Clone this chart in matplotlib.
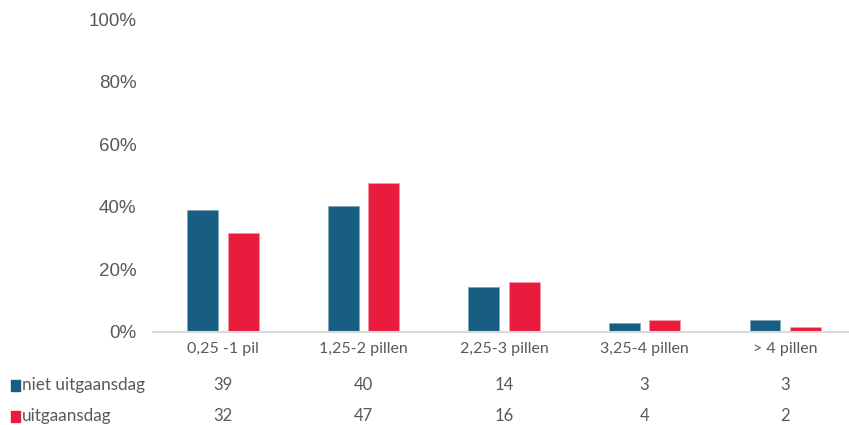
import matplotlib
matplotlib.use("Agg")
import matplotlib.pyplot as plt
import numpy as np
from matplotlib.transforms import blended_transform_factory

categories = ["0,25 -1 pil", "1,25-2 pillen", "2,25-3 pillen", "3,25-4 pillen", "> 4 pillen"]
series_names = ["niet uitgaansdag", "uitgaansdag"]
niet_uitgaansdag = [38.9, 40.3, 14.4, 3.0, 3.7]
uitgaansdag = [31.7, 47.5, 16.0, 3.7, 1.5]
table_niet = ["39", "40", "14", "3", "3"]
table_uit = ["32", "47", "16", "4", "2"]
yticks = [0, 20, 40, 60, 80, 100]

blue = "#175E82"
red = "#E91C3D"
txt = "#595959"

fig = plt.figure(figsize=(8.49, 4.25), dpi=100)
ax = fig.add_axes([153/849, 93/425, 696/849, 313/425])

x = np.arange(len(categories))
w = 0.22
off = 0.143
ax.bar(x - off, niet_uitgaansdag, width=w, color=blue, edgecolor="#7fa3b8", linewidth=0.5)
ax.bar(x + off, uitgaansdag, width=w, color=red, edgecolor="#f39aab", linewidth=0.5)

ax.set_xlim(-0.498, 4.455)
ax.set_ylim(0, 100)
ax.set_yticks(yticks)
ax.set_yticklabels([f"{v}%" for v in yticks], fontsize=13.5, color=txt, family="Liberation Sans")
ax.tick_params(axis="y", length=0, pad=12)
ax.set_xticks(x)
ax.set_xticklabels(categories, fontsize=11.5, color=txt, family="Lato")
ax.tick_params(axis="x", length=0, pad=7)
for s in ["top", "right", "left"]:
    ax.spines[s].set_visible(False)
ax.spines["bottom"].set_color("#D9D9D9")
ax.spines["bottom"].set_linewidth(1.5)

tr = blended_transform_factory(ax.transData, fig.transFigure)
row_y = [1 - 385/425, 1 - 416/425]
for vals, yf in zip([table_niet, table_uit], row_y):
    for xi, v in zip(x, vals):
        fig.text(xi, yf, v, transform=tr, ha="center", va="center", fontsize=12, color=txt, family="Lato")

for name, col, yf in zip(series_names, [blue, red], row_y):
    fig.patches.append(plt.Rectangle((11/849, yf - 6/425), 9/849, 11/425, transform=fig.transFigure,
                                     color=col, figure=fig))
    fig.text(22/849, yf, name, ha="left", va="center", fontsize=12.3, color=txt, family="Lato")

fig.savefig("out.png", dpi=100)
